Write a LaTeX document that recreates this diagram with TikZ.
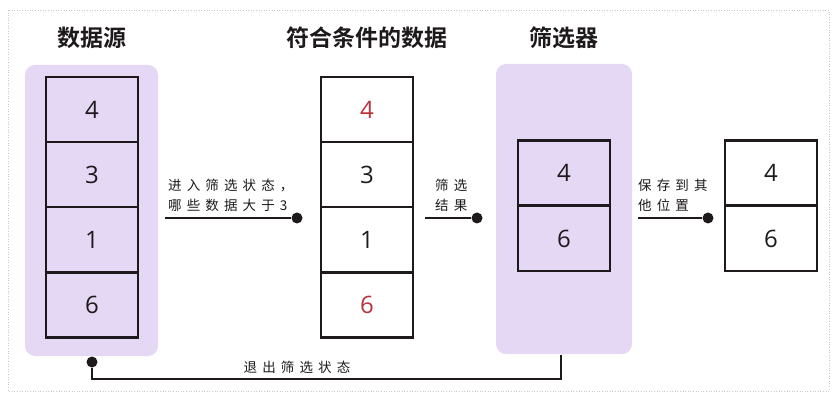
\documentclass[tikz,border=0pt]{standalone}
\usepackage{fontspec}
\setmainfont{Open Sans}
\newfontfamily\cjkbold[BoldFont={Noto Sans CJK SC Bold}]{Noto Sans CJK SC}
\newfontfamily\cjklbl[LetterSpace=38]{Noto Sans CJK SC}
\definecolor{panelc}{HTML}{E4D8F5}
\definecolor{linec}{HTML}{1E1A1C}
\definecolor{redc}{HTML}{B8323C}
\definecolor{framec}{HTML}{C8C8C8}
\begin{document}
\begin{tikzpicture}[x=1pt,y=-1pt,
  cell/.style={draw=linec,line width=2.7pt,minimum width=92pt,minimum height=65pt,inner sep=0pt,font=\fontsize{24}{26}\selectfont,text=linec},
  title/.style={font=\cjkbold\bfseries\fontsize{23}{25}\selectfont,text=linec},
  lbl/.style={font=\cjklbl\fontsize{13.5}{20}\selectfont,text=linec,align=left,inner sep=0pt},
  conn/.style={draw=linec,line width=2.4pt},
  dotn/.style={circle,fill=linec,inner sep=0pt,minimum size=11pt},
  panel/.style={fill=panelc,rounded corners=10pt,draw=none}]
\useasboundingbox (0,0) rectangle (832,395);
\draw[framec,dotted,line width=0.6pt] (8,10) rectangle (829,391);
% panels
\path[panel] (25,65) rectangle (158,356);
\path[panel] (496,64) rectangle (632,354);
% titles
\node[title] (t1) at (92,38) {数据源};
\node[title] (t2) at (367,38) {符合条件的数据};
\node[title] (t3) at (564,38) {筛选器};
% data source cells
\node[cell] (a1) at (92,109.5) {4};
\node[cell] (a2) at (92,174.5) {3};
\node[cell] (a3) at (92,239.5) {1};
\node[cell] (a4) at (92,305) {6};
% matching cells
\node[cell,text=redc] (b1) at (367,109.5) {4};
\node[cell] (b2) at (367,174.5) {3};
\node[cell] (b3) at (367,239.5) {1};
\node[cell,text=redc] (b4) at (367,305) {6};
% filter cells
\node[cell] (c1) at (564,173) {4};
\node[cell] (c2) at (564,238.5) {6};
% saved cells
\node[cell] (d1) at (771,173) {4};
\node[cell] (d2) at (771,238.5) {6};
% connectors
\coordinate (s1) at (165,218);
\node[dotn] (e1) at (297,218) {};
\draw[conn] (s1) -- (e1);
\node[lbl,anchor=south west] (l1) at (168,212) {进入筛选状态，\\哪些数据大于3};
\coordinate (s2) at (425,218);
\node[dotn] (e2) at (477,218) {};
\draw[conn] (s2) -- (e2);
\node[lbl,anchor=south west] (l2) at (435,212) {筛选\\结果};
\coordinate (s3) at (638,218);
\node[dotn] (e3) at (708,218) {};
\draw[conn] (s3) -- (e3);
\node[lbl,anchor=south west] (l3) at (638,212) {保存到其\\他位置};
% return
\coordinate (r0) at (561,355);
\node[dotn] (e4) at (92,362) {};
\draw[conn] (r0) -- (561,379) -- (92,379) -- (e4);
\node[lbl,anchor=south] (l4) at (297,374) {退出筛选状态};
\end{tikzpicture}
\end{document}
